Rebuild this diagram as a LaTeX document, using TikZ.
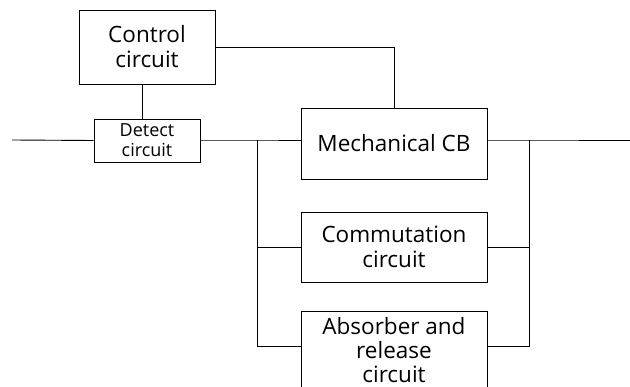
\documentclass[tikz,border=0pt]{standalone}
\usepackage{fontspec}
\setmainfont{Open Sans}
\usepackage{tikz}
\usetikzlibrary{positioning,calc}

\tikzset{
  blockbox/.style={draw,line width=0.9pt,align=center,inner sep=0pt,
    font=\fontsize{22.5}{25}\selectfont},
  smallbox/.style={blockbox,font=\fontsize{18}{20}\selectfont},
  wire/.style={line width=0.9pt}
}

\begin{document}
\begin{tikzpicture}[x=1pt,y=-1pt]
  \clip (0,0) rectangle (630,387);
  \useasboundingbox (0,0) rectangle (630,387);
  % Control and detect blocks
  \node[blockbox,minimum width=136pt,minimum height=74pt] (ctrl) at (147,47) {Control\\circuit};
  \node[smallbox,minimum width=106pt,minimum height=43pt] (detect) at (147,140.5) {Detect\\circuit};
  % Parallel branches
  \node[blockbox,minimum width=186pt,minimum height=71pt] (mech) at (394,143.5) {Mechanical CB};
  \node[blockbox,minimum width=186pt,minimum height=70pt] (comm) at (394,247) {Commutation\\circuit};
  \node[blockbox,minimum width=186pt,minimum height=78pt,anchor=north,
    font=\fontsize{22.5}{24}\selectfont] (absorb) at (394,311) {Absorber and\\release\\circuit};
  % Junctions
  \coordinate (in) at (12,140);
  \coordinate (jl) at (257,140);
  \coordinate (jr) at (529,140);
  \coordinate (out) at (630,140);
  \coordinate (jlb) at (257,346);
  \coordinate (jrb) at (529,346);
  % Wiring
  \draw[wire] ([xshift=-5pt]ctrl.south) -- ([xshift=-5pt]detect.north);
  \draw[wire] (ctrl.east |- 0,47) -| (mech.north);
  \draw[wire] (in) -- (detect.west);
  \draw[wire] (detect.east |- jl) -- (jl) -- (jl -| mech.west);
  \draw[wire] (jl) -- (jlb) -- (jlb -| absorb.west);
  \draw[wire] (comm.west -| jl) -- (comm.west);
  \draw[wire] (mech.east |- jr) -- (jr) -- (out);
  \draw[wire] (jr) -- (jrb) -- (jrb -| absorb.east);
  \draw[wire] (comm.east) -- (comm.east -| jr);
\end{tikzpicture}
\end{document}
